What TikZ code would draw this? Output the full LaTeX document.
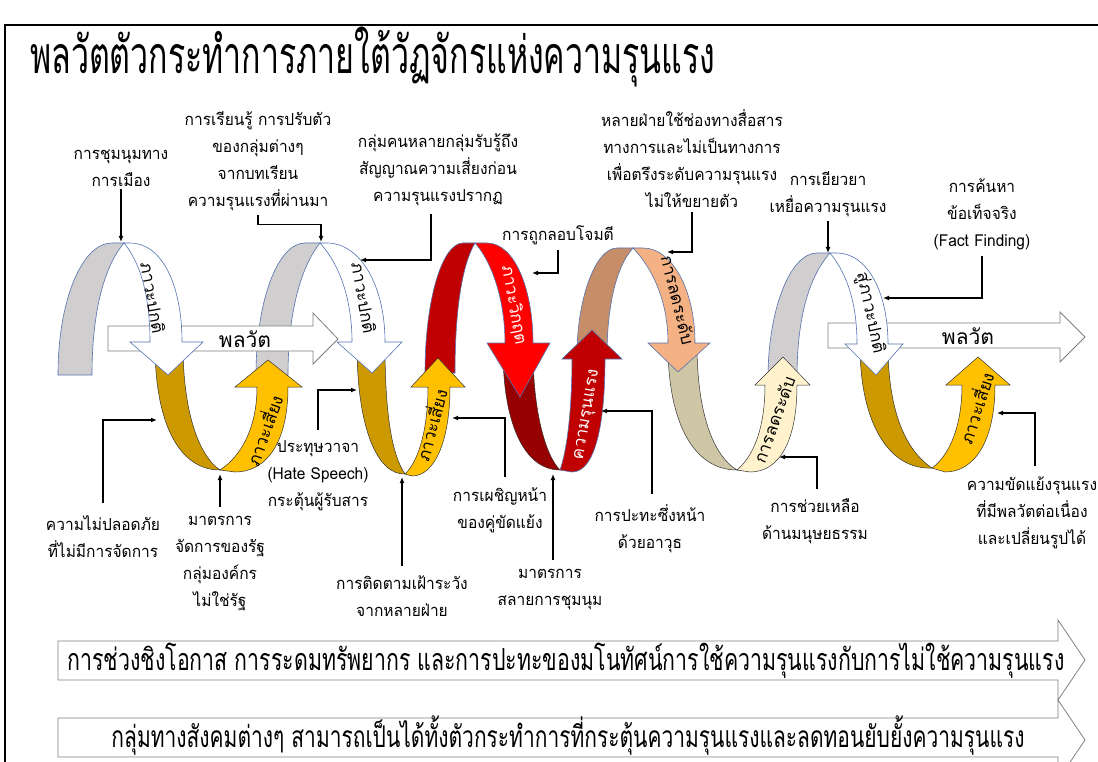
\documentclass[tikz,border=0pt]{standalone}
\usepackage{fontspec}
\newfontfamily\thaifont[Script=Thai]{Loma}
\newfontfamily\notethai[Script=Thai,FakeStretch=0.94]{Loma}
\newfontfamily\titlefont[Script=Thai,FakeStretch=0.62]{Loma}
\newfontfamily\bannerfont[Script=Thai,FakeStretch=0.7]{Loma}
\usetikzlibrary{arrows.meta}
\definecolor{backgray}{RGB}{208,206,206}
\definecolor{ribline}{RGB}{84,114,176}
\definecolor{golddark}{RGB}{204,153,0}
\definecolor{goldlight}{RGB}{255,192,0}
\definecolor{redback}{RGB}{192,0,0}
\definecolor{redfront}{RGB}{255,0,0}
\definecolor{reddark}{RGB}{150,0,0}
\definecolor{redup}{RGB}{192,0,0}
\definecolor{brownback}{RGB}{197,141,104}
\definecolor{orangefront}{RGB}{244,177,131}
\definecolor{tanback}{RGB}{207,198,166}
\definecolor{creamfront}{RGB}{255,242,204}
\definecolor{arrowgray}{RGB}{127,127,127}
\newcommand{\notefont}{\notethai\fontsize{16.5}{27}\selectfont}
\newcommand{\bandfont}{\thaifont\fontsize{17}{20}\selectfont}

\begin{document}
\begin{tikzpicture}[x=1pt,y=-1pt,
  pointer/.style={-{Latex[length=6pt,width=5pt]},line width=1.2pt},
  notetext/.style={font=\notefont,align=center,inner sep=0pt},
  bandtext/.style={font=\bandfont,inner sep=0pt},
  toprib/.style={draw=ribline,line width=0.6pt},
  lowrib/.style={draw=black!80,line width=0.5pt},
  flow/.style={fill=white,draw=arrowgray,line width=0.8pt}]
  \useasboundingbox (0,0) rectangle (1098,762);

  % frame of the slide
  \draw[line width=2pt] (5,762) -- (5,25) -- (1098,25);

  % title
  \node[anchor=base west,inner sep=0pt] (title) at (30,74)
    {\resizebox{685pt}{!}{\titlefont พลวัตตัวกระทำการภายใต้วัฏจักรแห่งความรุนแรง}};

  % back sides of the upper arches
  \filldraw[toprib,fill=backgray] (58,375) .. controls (58,300) and (82,243) .. (112,243)
    -- (124,243) .. controls (103,268) and (92,315) .. (92,375) -- cycle;
  \filldraw[toprib,fill=backgray] (256,375) .. controls (256,300) and (278,243) .. (305,243)
    -- (320,243) .. controls (300,268) and (288,315) .. (288,375) -- cycle;
  \filldraw[toprib,fill=redback] (425,373) .. controls (425,300) and (442,243) .. (463,243)
    -- (475,243) .. controls (462,265) and (455,310) .. (455,373) -- cycle;
  \filldraw[toprib,fill=brownback] (577,355) .. controls (577,300) and (595,248) .. (617,248)
    -- (633,248) .. controls (615,268) and (607,310) .. (607,355) -- cycle;
  \filldraw[toprib,fill=backgray] (768,378) .. controls (768,310) and (790,253) .. (817,253)
    -- (830,253) .. controls (808,278) and (797,320) .. (797,378) -- cycle;

  % the two horizontal arrows
  \draw[flow] (108,326) -- (313,326) -- (313,313) -- (338,339) -- (313,364)
    -- (313,351) -- (108,351) -- cycle;
  \draw[flow] (828,323) -- (1060,323) -- (1060,312) -- (1085,337) -- (1060,362)
    -- (1060,348) -- (828,348) -- cycle;
  \node[bandtext,font=\thaifont\fontsize{21}{24}\selectfont] (flow1) at (245,339) {พลวัต};
  \node[bandtext,font=\thaifont\fontsize{21}{24}\selectfont] (flow2) at (968,336) {พลวัต};

  % back sides of the lower loops
  \filldraw[lowrib,fill=golddark] (155,345) .. controls (155,425) and (180,470) .. (220,470)
    .. controls (198,455) and (183,410) .. (183,345) -- cycle;
  \filldraw[lowrib,fill=golddark] (357,345) .. controls (357,430) and (378,475) .. (405,474)
    .. controls (392,455) and (385,415) .. (385,345) -- cycle;
  \filldraw[lowrib,fill=reddark] (503,350) .. controls (503,425) and (525,470) .. (560,470)
    .. controls (545,455) and (533,410) .. (533,350) -- cycle;
  \filldraw[lowrib,fill=tanback] (668,345) .. controls (668,425) and (695,470) .. (737,470)
    .. controls (712,455) and (697,410) .. (697,345) -- cycle;
  \filldraw[lowrib,fill=golddark] (860,345) .. controls (860,425) and (890,470) .. (932,468)
    .. controls (905,450) and (888,410) .. (888,345) -- cycle;

  % front sides of the upper arches, going down
  \filldraw[toprib,fill=white] (124,243) .. controls (142,265) and (150,300) .. (150,342)
    -- (130,342) -- (168,375) -- (203,342) -- (182,342)
    .. controls (182,285) and (162,243) .. (130,243) -- cycle;
  \filldraw[toprib,fill=white] (320,243) .. controls (340,265) and (352,300) .. (352,342)
    -- (337,342) -- (372,373) -- (402,342) -- (385,342)
    .. controls (385,285) and (360,243) .. (327,243) -- cycle;
  \filldraw[toprib,fill=redfront] (475,243) .. controls (492,262) and (505,300) .. (505,343)
    -- (487,343) -- (520,397) -- (550,343) -- (533,343)
    .. controls (533,290) and (515,243) .. (487,243) -- cycle;
  \filldraw[toprib,fill=orangefront] (633,248) .. controls (652,268) and (668,300) .. (668,343)
    -- (648,343) -- (678,372) -- (710,343) -- (695,343)
    .. controls (695,290) and (672,248) .. (643,248) -- cycle;
  \filldraw[toprib,fill=white] (830,253) .. controls (848,275) and (857,305) .. (857,344)
    -- (845,344) -- (876,375) -- (903,344) -- (888,344)
    .. controls (888,290) and (866,253) .. (837,253) -- cycle;

  % front sides of the lower loops, going up
  \filldraw[lowrib,fill=goldlight] (220,470) .. controls (243,455) and (257,425) .. (257,387)
    -- (235,387) -- (268,360) -- (302,387) -- (288,387)
    .. controls (288,440) and (268,472) .. (235,472) -- cycle;
  \filldraw[lowrib,fill=goldlight] (405,474) .. controls (420,460) and (428,425) .. (428,387)
    -- (411,387) -- (438,358) -- (465,387) -- (450,387)
    .. controls (450,440) and (435,476) .. (412,476) -- cycle;
  \filldraw[toprib,fill=redup] (560,470) .. controls (567,450) and (572,410) .. (572,359)
    -- (562,359) -- (592,330) -- (622,359) -- (605,359)
    .. controls (605,425) and (595,472) .. (572,472) -- cycle;
  \filldraw[lowrib,fill=creamfront] (737,470) .. controls (755,455) and (765,425) .. (765,385)
    -- (755,385) -- (783,357) -- (810,385) -- (797,385)
    .. controls (797,440) and (780,472) .. (750,472) -- cycle;
  \filldraw[lowrib,fill=goldlight] (932,468) .. controls (950,455) and (962,425) .. (962,385)
    -- (946,385) -- (978,357) -- (1010,385) -- (995,385)
    .. controls (995,440) and (975,472) .. (945,472) -- cycle;

  % words along the ribbons
  \node[bandtext,rotate=-80] (normal1) at (153,298) {ภาวะปกติ};
  \node[bandtext,rotate=70] (risk1) at (263,430) {ภาวะเสี่ยง};
  \node[bandtext,rotate=-80] (normal2) at (364,298) {ภาวะปกติ};
  \node[bandtext,rotate=75] (risk2) at (430,425) {ภาวะเสี่ยง};
  \node[bandtext,rotate=-80,white] (crisis) at (514,305) {ภาวะวิกฤต};
  \node[bandtext,rotate=80,white] (violence) at (588,415) {ความรุนแรง};
  \node[bandtext,rotate=-76] (ease1) at (678,300) {การลดระดับ};
  \node[bandtext,rotate=70] (ease2) at (774,420) {การลดระดับ};
  \node[bandtext,rotate=-78] (normal3) at (870,313) {สู่ภาวะปกติ};
  \node[bandtext,rotate=72] (risk3) at (975,408) {ภาวะเสี่ยง};

  % labels above the coil
  \node[notetext] (rally) at (121,168.5) {การชุมนุมทาง\\การเมือง};
  \node[notetext] (learning) at (258,161) {การเรียนรู้ การปรับตัว\\ของกลุ่มต่างๆ\\จากบทเรียน\\ความรุนแรงที่ผ่านมา};
  \node[notetext] (signal) at (438,170) {กลุ่มคนหลายกลุ่มรับรู้ถึง\\สัญญาณความเสี่ยงก่อน\\ความรุนแรงปรากฏ};
  \node[notetext] (attack) at (558,235) {การถูกลอบโจมตี};
  \node[notetext] (channels) at (692,158.5) {หลายฝ่ายใช้ช่องทางสื่อสาร\\ทางการและไม่เป็นทางการ\\เพื่อตรึงระดับความรุนแรง\\ไม่ให้ขยายตัว};
  \node[notetext] (remedy) at (828,194) {การเยียวยา\\เหยื่อความรุนแรง};
  \node[notetext] (facts) at (982,214.5) {การค้นหา\\ข้อเท็จจริง\\(Fact Finding)};

  % labels below the coil
  \node[notetext] (insecure) at (103,536.5) {ความไม่ปลอดภัย\\ที่ไม่มีการจัดการ};
  \node[notetext] (statemeasure) at (220,564) {มาตรการ\\จัดการของรัฐ\\กลุ่มองค์กร\\ไม่ใช่รัฐ};
  \node[notetext] (hatespeech) at (318,475.5) {ประทุษวาจา\\(Hate Speech)\\กระตุ้นผู้รับสาร};
  \node[notetext] (monitor) at (402,596.5) {การติดตามเฝ้าระวัง\\จากหลายฝ่าย};
  \node[notetext] (confront) at (500,510) {การเผชิญหน้า\\ของคู่ขัดแย้ง};
  \node[notetext] (dispersal) at (550,590) {มาตรการ\\สลายการชุมนุม};
  \node[notetext] (clash) at (650,528.5) {การปะทะซึ่งหน้า\\ด้วยอาวุธ};
  \node[notetext] (aid) at (815,521.5) {การช่วยเหลือ\\ด้านมนุษยธรรม};
  \node[notetext] (conflict) at (1032,512.5) {ความขัดแย้งรุนแรง\\ที่มีพลวัตต่อเนื่อง\\และเปลี่ยนรูปได้};

  % where the pointers touch the ribbons
  \coordinate (t1) at (121,242);
  \coordinate (t2) at (321,242);
  \coordinate (t3) at (360,260);
  \coordinate (t4) at (532,273);
  \coordinate (t5) at (667,252);
  \coordinate (t6) at (828,253);
  \coordinate (t7) at (883,298);
  \coordinate (t8) at (157,420);
  \coordinate (t9) at (220,474);
  \coordinate (t10) at (357,390);
  \coordinate (t11) at (402,477);
  \coordinate (t12) at (452,418);
  \coordinate (t13) at (553,474);
  \coordinate (t14) at (601,411);
  \coordinate (t15) at (779,457);
  \coordinate (t16) at (997,413);

  % pointers from the labels
  \draw[pointer] ([yshift=-2pt]rally.south) -- (t1);
  \draw[pointer] ([yshift=-4pt]learning.south) -- ++(0,10) -| (t2);
  \draw[pointer] ([xshift=-7pt,yshift=-8pt]signal.south) |- (t3);
  \draw[pointer] ([yshift=-5pt]attack.south) |- (t4);
  \draw[pointer] ([yshift=-4pt]channels.south) |- (t5);
  \draw[pointer] ([yshift=-4pt]remedy.south) -- (t6);
  \draw[pointer] ([yshift=-6pt]facts.south) |- (t7);
  \draw[pointer] ([yshift=12pt]insecure.north) |- (t8);
  \draw[pointer] ([yshift=10pt]statemeasure.north) -- (t9);
  \draw[pointer] ([yshift=10pt]hatespeech.north) |- (t10);
  \draw[pointer] ([yshift=10pt]monitor.north) -- (t11);
  \draw[pointer] ([xshift=5pt,yshift=10pt]confront.north) |- (t12);
  \draw[pointer] ([xshift=3pt,yshift=10pt]dispersal.north) -- (t13);
  \draw[pointer] ([xshift=2pt,yshift=10pt]clash.north) |- (t14);
  \draw[pointer] ([xshift=2pt,yshift=10pt]aid.north) |- (t15);
  \draw[pointer] ([xshift=3pt,yshift=10pt]conflict.north) |- (t16);

  % two banners at the bottom
  \draw[flow] (58,641) -- (1058,641) -- (1058,620) -- (1085,660) -- (1058,700)
    -- (1058,680) -- (58,680) -- cycle;
  \draw[flow] (58,718) -- (1058,718) -- (1058,700) -- (1085,740) -- (1058,780)
    -- (1058,757) -- (58,757) -- cycle;
  \node[anchor=base,inner sep=0pt] (banner1) at (566,670)
    {\resizebox{997pt}{!}{\bannerfont การช่วงชิงโอกาส การระดมทรัพยากร และการปะทะของมโนทัศน์การใช้ความรุนแรงกับการไม่ใช้ความรุนแรง}};
  \node[anchor=base,inner sep=0pt] (banner2) at (568,747)
    {\resizebox{913pt}{!}{\bannerfont กลุ่มทางสังคมต่างๆ สามารถเป็นได้ทั้งตัวกระทำการที่กระตุ้นความรุนแรงและลดทอนยับยั้งความรุนแรง}};

\end{tikzpicture}
\end{document}
